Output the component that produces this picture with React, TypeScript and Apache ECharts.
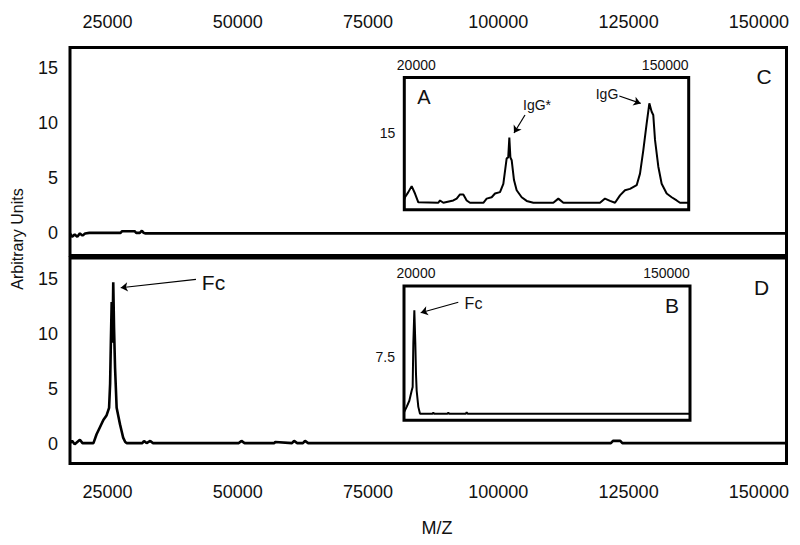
import React, { useEffect, useRef } from "react";
import * as echarts from "echarts";

// ---- Main panels: x range and tick labels ----
const MAIN_X_MIN = 17800;
const MAIN_X_MAX = 155300;
const MAIN_X_TICKS = [25000, 50000, 75000, 100000, 125000, 150000];
const MAIN_Y_TICKS = [0, 5, 10, 15];

// Panel C (top) trace
const C_X = [17800, 18200, 18700, 19200, 19700, 20200, 20700, 21500, 23000, 25000, 27500, 27800, 29000, 30200, 30500, 31200, 31600, 31900, 32300, 155300];
const C_Y = [0.0, -0.3, -0.1, -0.3, 0.0, -0.2, 0.0, 0.05, 0.05, 0.05, 0.05, 0.2, 0.2, 0.2, 0.05, 0.05, 0.25, 0.05, 0.0, 0.0];

// Panel D (bottom) trace
const D_X = [17800, 18200, 18700, 19200, 19700, 20200, 20800, 21500, 22300, 22900, 23500, 24200, 24800, 25300, 25500, 25650, 25800, 25950, 26100, 26250, 26450, 26750, 27050, 27400, 27700, 28000, 28400, 28700, 31700, 32000, 32500, 33200, 33700, 34100, 50200, 50700, 51300, 57000, 57200, 60400, 60800, 61400, 62500, 62900, 63500, 121600, 122000, 123400, 123800, 155300];
const D_Y = [0.1, 0.3, 0.0, 0.2, 0.4, 0.1, 0.1, 0.1, 0.1, 0.9, 1.5, 2.2, 2.6, 3.3, 5.5, 9.5, 12.9, 9.2, 14.7, 10.6, 6.9, 3.3, 2.6, 1.8, 1.2, 0.6, 0.2, 0.1, 0.1, 0.3, 0.1, 0.3, 0.1, 0.1, 0.1, 0.3, 0.1, 0.1, 0.2, 0.1, 0.3, 0.1, 0.1, 0.3, 0.1, 0.1, 0.3, 0.3, 0.1, 0.1];

// Inset A trace
const A_X = [20000, 20320, 21840, 23370, 24890, 26410, 35560, 36320, 37840, 42410, 43940, 45460, 46980, 48510, 50030, 56130, 57650, 59940, 61460, 63750, 65270, 66790, 67500, 68010, 68500, 69080, 70140, 71360, 73650, 75930, 78980, 88120, 90410, 92700, 109460, 111740, 114030, 116320, 118600, 120880, 123170, 126220, 127740, 129260, 130790, 132010, 133070, 133800, 134600, 136120, 137640, 139930, 142210, 144500, 146020, 150000];
const A_Y = [0.8, 1.2, 2.3, 3.6, 2.0, 0.1, 0.0, 0.5, 0.0, 0.5, 0.9, 1.8, 1.8, 0.5, 0.0, 0.0, 0.9, 1.2, 2.0, 2.3, 4.1, 9.6, 9.8, 14.1, 9.8, 9.2, 4.9, 2.7, 1.2, 0.4, 0.0, 0.0, 0.9, 0.0, 0.0, 0.9, 0.4, 0.0, 1.6, 2.7, 3.0, 3.8, 6.3, 11.4, 17.2, 21.5, 19.7, 19.0, 13.6, 7.8, 4.1, 2.0, 1.2, 0.5, 0.0, 0.0];

// Inset B trace
const B_X = [20000, 21210, 22420, 23480, 23940, 24240, 24700, 25150, 25450, 25760, 26510, 27270, 33000, 33330, 33700, 39800, 40150, 40500, 48100, 48480, 48900, 150000];
const B_Y = [0.3, 1.0, 1.8, 3.1, 3.6, 9.3, 13.6, 9.3, 5.3, 3.1, 1.0, 0.1, 0.1, 0.25, 0.1, 0.1, 0.25, 0.1, 0.1, 0.3, 0.1, 0.1];

const INSET_X_LABELS = [20000, 150000];
const INSET_A_Y_LABEL = 15;
const INSET_B_Y_LABEL = 7.5;

// Arrow annotations [x1, y1, x2, y2] in data units
const ARROW_D_FC = [41975, 14.96, 27528, 14.2];
const ARROW_A_IGGSTAR = [75170, 19.0, 70145, 15.1];
const ARROW_A_IGG = [118280, 23.1, 128060, 21.5];
const ARROW_B_FC = [44680, 14.63, 27590, 13.27];

const FONT = '"Liberation Sans", Arial, Helvetica, sans-serif';
const INK = "#111";

const zip = (xs: number[], ys: number[]) => xs.map((x, i) => [x, ys[i]]);

const arrow = (a: number[]) => ({
  silent: true,
  symbol: ["none", "arrow"],
  symbolSize: 7,
  lineStyle: { color: "#000", width: 1.2, type: "solid" },
  label: { show: false },
  data: [[{ coord: [a[0], a[1]] }, { coord: [a[2], a[3]] }]],
});

export default function App() {
  const ref = useRef<HTMLDivElement>(null);
  useEffect(() => {
    document.body.style.margin = "0";
    const chart = echarts.init(ref.current!, undefined, { renderer: "svg" });

    const mainXAxis = (gridIndex: number, position: string) => ({
      type: "value",
      gridIndex,
      position,
      min: MAIN_X_MIN,
      max: MAIN_X_MAX,
      interval: 200,
      axisLine: { show: false },
      axisTick: { show: false },
      splitLine: { show: false },
      axisLabel: {
        fontSize: 18,
        fontFamily: FONT,
        color: INK,
        margin: position === "top" ? 17 : 19,
        showMinLabel: false,
        showMaxLabel: false,
        formatter: (v: number) => (MAIN_X_TICKS.includes(Math.round(v)) ? String(Math.round(v)) : ""),
      },
    });

    const mainYAxis = (gridIndex: number, min: number, max: number, interval: number) => ({
      type: "value",
      gridIndex,
      min,
      max,
      interval,
      axisLine: { show: false },
      axisTick: { show: false },
      splitLine: { show: false },
      axisLabel: {
        fontSize: 18,
        fontFamily: FONT,
        color: INK,
        margin: 12,
        formatter: (v: number) => {
          const t = MAIN_Y_TICKS.find((k) => Math.abs(k - v) < 1e-6);
          return t === undefined ? "" : String(t);
        },
      },
    });

    const insetXAxis = (gridIndex: number) => ({
      type: "value",
      gridIndex,
      position: "top",
      min: INSET_X_LABELS[0],
      max: INSET_X_LABELS[1],
      interval: 10000,
      axisLine: { show: false },
      axisTick: { show: false },
      splitLine: { show: false },
      axisLabel: {
        fontSize: 14,
        fontFamily: FONT,
        color: INK,
        margin: 6,
        formatter: (v: number) =>
          Math.round(v) === INSET_X_LABELS[0]
            ? `{l|${INSET_X_LABELS[0]}}`
            : Math.round(v) === INSET_X_LABELS[1]
            ? `{r|${INSET_X_LABELS[1]}}`
            : "",
        rich: {
          l: { fontSize: 14, fontFamily: FONT, color: INK, padding: [0, 0, 0, 24] },
          r: { fontSize: 14, fontFamily: FONT, color: INK, padding: [0, 47, 0, 0] },
        },
      },
    });

    const insetYAxis = (gridIndex: number, min: number, max: number, interval: number, label: number) => ({
      type: "value",
      gridIndex,
      min,
      max,
      interval,
      axisLine: { show: false },
      axisTick: { show: false },
      splitLine: { show: false },
      axisLabel: {
        fontSize: 14,
        fontFamily: FONT,
        color: INK,
        margin: 9,
        formatter: (v: number) => (Math.abs(v - label) < 1e-6 ? String(label) : ""),
      },
    });

    const lineSeries = (idx: number, data: number[][], width: number, markLine?: any) => ({
      type: "line",
      xAxisIndex: idx,
      yAxisIndex: idx,
      data,
      showSymbol: false,
      symbol: "none",
      silent: true,
      lineStyle: { color: "#000", width },
      markLine,
      z: 3,
    });

    const text = (t: string, x: number, y: number, size: number, rotation = 0) => ({
      type: "text",
      x,
      y,
      rotation,
      z: 10,
      style: {
        text: t,
        fontSize: size,
        fontFamily: FONT,
        fill: INK,
        align: "center",
        verticalAlign: "middle",
      },
    });

    chart.setOption({
      animation: false,
      backgroundColor: "#fff",
      grid: [
        { left: 70, top: 47.5, width: 716.5, height: 208, show: true, borderWidth: 3, borderColor: "#000", containLabel: false },
        { left: 70, top: 258, width: 716.5, height: 205.5, show: true, borderWidth: 3, borderColor: "#000", containLabel: false },
        { left: 404.3, top: 77.5, width: 284.4, height: 132.2, show: true, borderWidth: 3, borderColor: "#000", backgroundColor: "#fff", containLabel: false },
        { left: 404, top: 286, width: 286, height: 134.3, show: true, borderWidth: 3, borderColor: "#000", backgroundColor: "#fff", containLabel: false },
      ],
      xAxis: [mainXAxis(0, "top"), mainXAxis(1, "bottom"), insetXAxis(2), insetXAxis(3)],
      yAxis: [
        mainYAxis(0, -2, 16.84, 1),
        mainYAxis(1, -1.75, 16.9, 0.25),
        insetYAxis(2, -1.5, 27.1, 0.5, INSET_A_Y_LABEL),
        insetYAxis(3, -0.75, 16.75, 0.25, INSET_B_Y_LABEL),
      ],
      series: [
        lineSeries(0, zip(C_X, C_Y), 2.6),
        lineSeries(1, zip(D_X, D_Y), 2.6, arrow(ARROW_D_FC)),
        {
          ...lineSeries(2, zip(A_X, A_Y), 2),
          markLine: {
            ...arrow(ARROW_A_IGGSTAR),
            data: [
              [{ coord: [ARROW_A_IGGSTAR[0], ARROW_A_IGGSTAR[1]] }, { coord: [ARROW_A_IGGSTAR[2], ARROW_A_IGGSTAR[3]] }],
              [{ coord: [ARROW_A_IGG[0], ARROW_A_IGG[1]] }, { coord: [ARROW_A_IGG[2], ARROW_A_IGG[3]] }],
            ],
          },
        },
        lineSeries(3, zip(B_X, B_Y), 2, arrow(ARROW_B_FC)),
      ],
      graphic: [
        text("Arbitrary Units", 17, 239, 16, Math.PI / 2),
        text("M/Z", 437, 527.5, 18),
        text("C", 764, 76, 21),
        text("D", 761.5, 287.5, 21),
        text("A", 424, 97, 20),
        text("B", 672, 305.5, 21),
        text("Fc", 213.5, 282.5, 21),
        text("IgG*", 537, 105, 14),
        text("IgG", 607, 93.5, 14),
        text("Fc", 473.5, 303.5, 16),
      ],
    });
    return () => chart.dispose();
  }, []);
  return <div ref={ref} style={{ position: "absolute", left: 0, top: 0, width: 800, height: 545 }} />;
}
